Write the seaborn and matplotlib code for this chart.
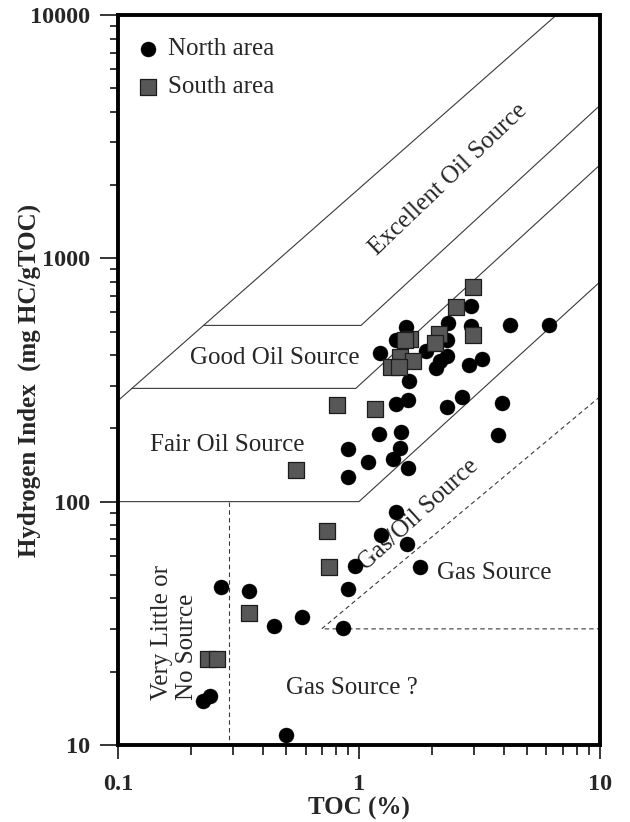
import matplotlib
matplotlib.use("Agg")
import matplotlib.pyplot as plt
import numpy as np
import pandas as pd
import seaborn as sns

# ---- sample data: TOC (wt %) and Hydrogen Index (mg HC/g TOC) ----
north_toc = [2.91, 2.35, 2.92, 1.56, 1.42, 2.32, 1.22, 1.90, 2.33, 2.16,
             2.09, 2.86, 3.25, 1.62, 4.23, 6.16, 1.43, 1.59, 2.31, 2.67,
             3.92, 3.76, 1.21, 1.50, 0.90, 1.48, 1.09, 1.38, 1.59, 0.90,
             1.43, 1.23, 1.58, 0.96, 1.80, 0.90, 0.86, 0.58, 0.445, 0.35,
             0.267, 0.50, 0.226, 0.241]
north_hi = [637, 540, 525, 523, 462, 460, 407, 416, 397, 379,
            354, 363, 384, 314, 532, 532, 252, 262, 244, 268,
            254, 187, 190, 193, 165, 166, 146, 150, 137, 126,
            91, 73, 67, 54.4, 53.9, 43.9, 30.3, 33.7, 30.8, 43.0,
            44.5, 11.0, 15.1, 15.9]

south_toc = [2.98, 2.53, 2.15, 2.07, 2.98, 1.63, 1.545, 1.48, 1.675, 1.36,
             1.47, 0.807, 1.165, 0.548, 0.739, 0.752, 0.350, 0.237, 0.257]
south_hi = [765, 629, 489, 450, 482, 466, 462, 393, 379, 357,
            358, 250, 241, 135, 76, 53.8, 34.8, 22.6, 22.6]

# ---- source-rock classification boundaries ----
outer_toc, outer_hi = [0.1, 6.6], [260, 10000]
good_top_toc, good_top_hi = [0.227, 1.02, 10], [530, 530, 4250]
good_bot_toc, good_bot_hi = [0.114, 0.97, 10], [292, 292, 2420]
fair_bot_toc, fair_bot_hi = [0.1, 1.0, 10], [100, 100, 800]
nosrc_toc, nosrc_hi = [0.29, 0.29], [100, 10]
gas_toc, gas_hi = [10, 0.7, 10], [270, 30, 30]

zone_labels = ["Excellent Oil Source", "Good Oil Source", "Fair Oil Source",
               "Gas/Oil Source", "Gas Source", "Gas Source ?",
               "Very Little or\nNo Source"]
zone_toc = [2.36, 0.447, 0.285, 1.76, 3.64, 0.933, 0.172]
zone_hi = [2100, 390, 171, 88, 50.8, 17.1, 29.0]
zone_rot = [43.7, 0, 0, 42.4, 0, 0, 90]

x_ticks, x_ticklabels = [0.1, 1, 10], ["0.1", "1", "10"]
y_ticks, y_ticklabels = [10, 100, 1000, 10000], ["10", "100", "1000", "10000"]

north = pd.DataFrame({"TOC": north_toc, "HI": north_hi})
south = pd.DataFrame({"TOC": south_toc, "HI": south_hi})

sns.set_style("ticks")
plt.rcParams["font.family"] = ["Liberation Serif", "DejaVu Serif"]

fig = plt.figure(figsize=(6.3, 8.22), dpi=100)
ax = fig.add_axes([0.1873, 0.0937, 0.765, 0.8881])
ax.set_xscale("log")
ax.set_yscale("log")

line_kw = dict(color="#3a3a3a", lw=0.8, zorder=1, sort=False,
               estimator=None, errorbar=None)
dash_kw = dict(line_kw, ls=(0, (4, 3)))
sns.lineplot(x=outer_toc, y=outer_hi, ax=ax, **line_kw)
sns.lineplot(x=good_top_toc, y=good_top_hi, ax=ax, **line_kw)
sns.lineplot(x=good_bot_toc, y=good_bot_hi, ax=ax, **line_kw)
sns.lineplot(x=fair_bot_toc, y=fair_bot_hi, ax=ax, **line_kw)
sns.lineplot(x=nosrc_toc, y=nosrc_hi, ax=ax, **dash_kw)
sns.lineplot(x=gas_toc, y=gas_hi, ax=ax, **dash_kw)

sns.scatterplot(data=north, x="TOC", y="HI", ax=ax, marker="o", s=117,
                color="black", edgecolor="black", linewidth=0.3,
                label="North area", zorder=3)
sns.scatterplot(data=south, x="TOC", y="HI", ax=ax, marker="s", s=144,
                color="#575757", edgecolor="#1c1c1c", linewidth=0.9,
                label="South area", zorder=4)

for txt, tx, ty, rot in zip(zone_labels, zone_toc, zone_hi, zone_rot):
    ax.text(tx, ty, txt, fontsize=18, rotation=rot, rotation_mode="anchor",
            ha="center", va="center", multialignment="left", zorder=2)

ax.set_xlim(0.1, 10)
ax.set_ylim(10, 10000)
ax.set_xticks(x_ticks, labels=x_ticklabels, fontsize=17.5, fontweight="bold")
ax.set_yticks(y_ticks, labels=y_ticklabels, fontsize=17.5, fontweight="bold")
ax.xaxis.set_minor_formatter(matplotlib.ticker.NullFormatter())
ax.yaxis.set_minor_formatter(matplotlib.ticker.NullFormatter())

ax.tick_params(axis="y", which="major", direction="out", length=13, width=1.1, pad=7, color="black")
ax.tick_params(axis="y", which="minor", direction="out", length=6, width=1.1, color="black")
ax.tick_params(axis="x", which="major", direction="out", length=10, width=1.1, pad=11, color="black")
ax.tick_params(axis="x", which="minor", direction="out", length=7, width=1.1, color="black")

for sp in ax.spines.values():
    sp.set_linewidth(2.8)
    sp.set_color("black")

ax.set_xlabel("TOC (%)", fontsize=18, fontweight="bold", labelpad=1)
ax.set_ylabel("Hydrogen Index  (mg HC/gTOC)", fontsize=18, fontweight="bold")
ax.yaxis.set_label_coords(-0.16, 0.5)
ax.grid(False)

ax.legend(loc="upper left", bbox_to_anchor=(0.0, 0.993), frameon=False,
          fontsize=18, handlelength=1.0, handletextpad=0.3,
          borderaxespad=0.3, labelspacing=0.63)

fig.savefig("out.png", dpi=100)
